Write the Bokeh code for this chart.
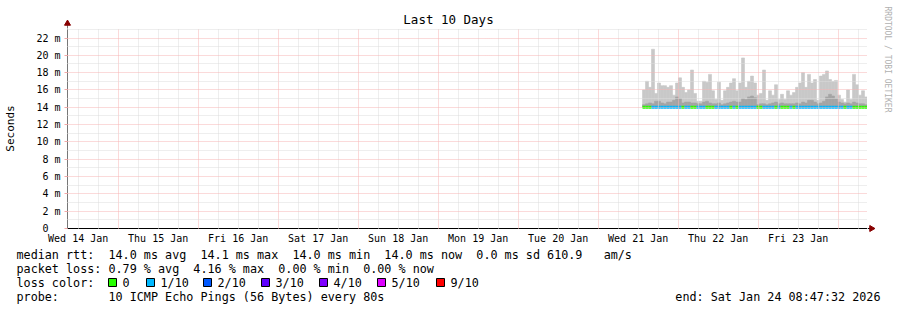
import pandas as pd
from math import pi
from bokeh.plotting import figure
from bokeh.layouts import column, row
from bokeh.models import Range1d, FixedTicker
from bokeh.core.properties import value
from bokeh.embed import file_html
from bokeh.resources import INLINE

# ---------------- data ----------------
title_text = "Last 10 Days"
y_axis_title = "Seconds"
watermark = "RRDTOOL / TOBI OETIKER"

range_start = "2026-01-14 08:47:32"
range_end = "2026-01-24 08:47:32"

day_label_dates = ["2026-01-14", "2026-01-15", "2026-01-16", "2026-01-17", "2026-01-18",
                   "2026-01-19", "2026-01-20", "2026-01-21", "2026-01-22", "2026-01-23"]
day_labels = ["Wed 14 Jan", "Thu 15 Jan", "Fri 16 Jan", "Sat 17 Jan", "Sun 18 Jan",
              "Mon 19 Jan", "Tue 20 Jan", "Wed 21 Jan", "Thu 22 Jan", "Fri 23 Jan"]

y_ticks_ms = [0, 2, 4, 6, 8, 10, 12, 14, 16, 18, 20, 22]
y_tick_labels = ["0\u00a0\u00a0", "2 m", "4 m", "6 m", "8 m", "10 m", "12 m",
                 "14 m", "16 m", "18 m", "20 m", "22 m"]
y_minor_ms = [1, 3, 5, 7, 9, 11, 13, 15, 17, 19, 21, 23]
y_top_ms = 23.1

sample_start = "2026-01-21 13:17:32"
sample_step_minutes = 54

# upper edge of the smoke (ms)
smoke_max = [16.0, 17.0, 16.3, 20.7, 15.6, 16.8, 16.5, 16.5, 16.3, 16.5,
             15.4, 16.8, 17.4, 16.3, 15.7, 16.0, 18.3, 15.6, 14.7, 14.7,
             17.0, 16.9, 17.8, 15.9, 14.9, 16.9, 14.8, 15.9, 16.3, 16.8,
             17.3, 15.9, 16.8, 19.7, 16.3, 17.0, 17.6, 16.8, 15.4, 15.6,
             18.3, 14.8, 15.9, 15.4, 16.6, 14.9, 15.5, 14.9, 15.9, 15.4,
             15.7, 16.3, 16.8, 18.0, 16.3, 17.8, 16.8, 17.2, 14.8, 17.6,
             17.8, 18.2, 17.2, 17.0, 17.1, 15.4, 14.9, 14.6, 16.0, 14.9,
             17.8, 16.6, 15.4, 15.9, 15.2]
# denser (darker) part of the smoke (ms)
smoke_dark = [14.3, 14.4, 14.5, 14.4, 14.7, 14.7, 14.5, 14.4, 14.6, 14.6,
              14.8, 15.2, 15.0, 14.5, 14.6, 14.6, 14.5, 14.5, 14.4, 14.4,
              14.6, 14.7, 14.5, 14.4, 14.4, 14.5, 14.3, 14.4, 14.5, 14.6,
              14.7, 14.6, 14.6, 15.0, 14.9, 15.2, 15.3, 15.1, 14.3, 14.4,
              14.4, 14.3, 14.4, 14.5, 14.6, 14.4, 14.5, 14.4, 14.4, 14.4,
              14.4, 14.5, 14.4, 14.6, 14.5, 14.8, 14.8, 14.6, 14.4, 14.5,
              14.7, 15.2, 15.5, 15.3, 15.0, 14.6, 14.5, 14.4, 14.5, 14.4,
              14.6, 14.5, 14.4, 14.4, 14.3]
median_rtt = [14.0, 14.0, 14.0, 14.0, 14.0, 14.0, 14.0, 14.0, 14.0, 14.0,
              14.0, 14.0, 14.0, 14.0, 14.0, 14.0, 14.0, 14.0, 14.0, 14.0,
              14.0, 14.0, 14.0, 14.0, 14.0, 14.0, 14.0, 14.0, 14.0, 14.0,
              14.0, 14.0, 14.0, 14.0, 14.0, 14.0, 14.0, 14.0, 14.0, 14.0,
              14.0, 14.0, 14.0, 14.0, 14.0, 14.0, 14.0, 14.0, 14.0, 14.0,
              14.0, 14.0, 14.0, 14.0, 14.0, 14.0, 14.0, 14.0, 14.0, 14.0,
              14.0, 14.0, 14.0, 14.0, 14.0, 14.0, 14.0, 14.0, 14.0, 14.0,
              14.0, 14.0, 14.0, 14.0, 14.0]
# pings lost out of 10
loss_count = [0, 0, 0, 1, 1, 1, 1, 1, 1, 1,
              1, 1, 1, 0, 1, 1, 0, 0, 1, 1,
              1, 0, 0, 0, 1, 1, 1, 1, 1, 0,
              1, 0, 1, 1, 1, 1, 1, 1, 0, 0,
              1, 1, 1, 1, 0, 1, 0, 0, 0, 1,
              0, 1, 1, 1, 1, 1, 1, 1, 1, 1,
              1, 1, 1, 1, 1, 1, 1, 0, 1, 1,
              0, 0, 0, 0, 0]

loss_names = ["0", "1/10", "2/10", "3/10", "4/10", "5/10", "9/10"]
loss_levels = [0, 1, 2, 3, 4, 5, 9]
loss_hex = ["#26ff00", "#00b8ff", "#0059ff", "#5e00ff", "#7e00ff", "#dd00ff", "#ff0000"]

legend_rows = [
    "median rtt:  14.0 ms avg  14.1 ms max  14.0 ms min  14.0 ms now  0.0 ms sd 610.9   am/s",
    "packet loss: 0.79 % avg  4.16 % max  0.00 % min  0.00 % now",
    "loss color:",
    "probe:       10 ICMP Echo Pings (56 Bytes) every 80s",
]
end_text = "end: Sat Jan 24 08:47:32 2026"

# ---------------- helpers ----------------
def ms(ts):
    return pd.Timestamp(ts).value / 1e6

HOUR = 3600 * 1000.0
t0, t1 = ms(range_start), ms(range_end)
step = sample_step_minutes * 60 * 1000.0
s0 = ms(sample_start)
left = [s0 + i * step for i in range(len(smoke_max))]
right = [v + step for v in left]
loss_color_of = dict(zip(loss_levels, loss_hex))
line_colors = [loss_color_of[c] for c in loss_count]

noons = [ms(d) + 12 * HOUR for d in day_label_dates]
midnights = [ms(d) for d in day_label_dates[1:]] + [ms("2026-01-24")]
six_h = []
t = ms("2026-01-14 12:00:00")
while t < t1:
    if t not in midnights:
        six_h.append(t)
    t += 6 * HOUR

MONO = "DejaVu Sans Mono"
W, H = 897, 310
FL = 67            # frame left
FTOP = 28          # frame top
FH = 200           # frame height
FW = 800           # frame width
XLAB = 18          # x-label band
MAIN_W = FL + FW
MAIN_H = FH + XLAB
TOP_H = FTOP
SIDE_W = W - MAIN_W
UPPER_H = TOP_H + MAIN_H
BOT_H = H - UPPER_H


def strip(w, h, x0, x1, y_bottom, y_top):
    f = figure(width=w, height=h, output_backend="svg", toolbar_location=None,
               x_range=Range1d(x0, x1), y_range=Range1d(y_bottom, y_top),
               x_axis_location=None, y_axis_location=None, min_border=0)
    f.outline_line_color = None
    f.grid.visible = False
    f.background_fill_color = "white"
    f.border_fill_color = "white"
    return f


def txt(f, s, x, y, size, align="left", color="black", angle=0.0):
    f.text(x=[x], y=[y], text=[s], text_font=value(MONO), text_font_size=value(size),
           text_align=align, text_baseline="middle", text_color=color, angle=angle)


# ---------------- main plot ----------------
p = figure(width=MAIN_W, height=MAIN_H, output_backend="svg", toolbar_location=None,
           x_range=Range1d(t0, t1), y_range=Range1d(0, y_top_ms),
           min_border_left=FL, min_border_right=0, min_border_top=0, min_border_bottom=XLAB)
p.outline_line_color = None
p.background_fill_color = "white"
p.border_fill_color = "white"

xa = p.xaxis[0]
xa.ticker = FixedTicker(ticks=noons)
xa.major_label_overrides = {n: l for n, l in zip(noons, day_labels)}
xa.major_tick_out = 0
xa.major_tick_in = 0
xa.minor_tick_out = 0
xa.minor_tick_in = 0
xa.major_label_standoff = 4
xa.major_label_text_font = MONO
xa.major_label_text_font_size = "10px"
xa.major_label_text_color = "black"
xa.axis_line_color = "black"

ya = p.yaxis[0]
ya.ticker = FixedTicker(ticks=y_ticks_ms, minor_ticks=y_minor_ms)
ya.major_label_overrides = {v: l for v, l in zip(y_ticks_ms, y_tick_labels)}
ya.major_tick_out = 3
ya.major_tick_in = 0
ya.major_tick_line_color = "#f4a8a8"
ya.minor_tick_out = 0
ya.minor_tick_in = 0
ya.major_label_standoff = 4
ya.major_label_text_font = MONO
ya.major_label_text_font_size = "10px"
ya.major_label_text_color = "black"
ya.axis_line_color = "#777777"
ya.axis_label = y_axis_title
ya.axis_label_text_font = MONO
ya.axis_label_text_font_size = "11px"
ya.axis_label_text_font_style = "normal"
ya.axis_label_text_color = "black"
ya.axis_label_standoff = 16

p.xgrid.ticker = FixedTicker(ticks=midnights, minor_ticks=six_h)
p.ygrid.ticker = FixedTicker(ticks=y_ticks_ms[1:], minor_ticks=y_minor_ms)
for g in (p.xgrid[0], p.ygrid[0]):
    g.grid_line_color = "#f6b4b4"
    g.grid_line_alpha = 1.0
    g.grid_line_dash = "1 1"
    g.minor_grid_line_color = "#dcdcdc"
    g.minor_grid_line_alpha = 1.0
    g.minor_grid_line_dash = "1 1"
    g.level = "annotation"

p.quad(left=left, right=right, bottom=median_rtt, top=smoke_max,
       fill_color="#c8c8c8", line_color="#c8c8c8", line_width=0.6)
p.quad(left=left, right=right, bottom=median_rtt, top=smoke_dark,
       fill_color="#a4a4a4", line_color="#a4a4a4", line_width=0.6)
p.segment(x0=left, x1=right, y0=median_rtt, y1=median_rtt,
          line_color=line_colors, line_width=3)

# ---------------- top strip: title + y-axis arrow ----------------
ptop = strip(MAIN_W, TOP_H, 0, MAIN_W, TOP_H, 0)
txt(ptop, title_text, 448, 19, "12.5px", align="center")
ptop.segment(x0=[FL], y0=[TOP_H], x1=[FL], y1=[23], line_color="#777777", line_width=1)
ptop.scatter(x=[FL], y=[23], marker="triangle", size=6,
             fill_color="#880000", line_color="#880000")

# ---------------- right strip: watermark + x-axis arrow ----------------
pside = strip(SIDE_W, UPPER_H, MAIN_W, W, UPPER_H, 0)
txt(pside, watermark, 887, 59, "8px", align="center", color="#b0b0b0", angle=-pi / 2)
axis_y = TOP_H + FH
pside.segment(x0=[MAIN_W], y0=[axis_y], x1=[MAIN_W + 3], y1=[axis_y],
              line_color="black", line_width=1)
pside.scatter(x=[MAIN_W + 4], y=[axis_y], marker="triangle", size=6, angle=-pi / 2,
              fill_color="#880000", line_color="#880000")

# ---------------- bottom strip: legend ----------------
pbot = strip(W, BOT_H, 0, W, H, UPPER_H)
row_y = [254.5, 268, 282, 296]
for s, y in zip(legend_rows, row_y):
    txt(pbot, s.replace(" ", "\u00a0"), 16, y, "11.75px")
box_x = [108, 146, 203, 261, 319, 377, 436]
pbot.quad(left=box_x, right=[b + 8 for b in box_x], top=[278] * len(box_x),
          bottom=[286] * len(box_x), fill_color=loss_hex, line_color="black", line_width=1)
for name, b in zip(loss_names, box_x):
    txt(pbot, name, b + 14, 282, "11.75px")
txt(pbot, end_text.replace(" ", "\u00a0"), 880, 296, "11.75px", align="right")

layout = column(row(column(row(ptop, spacing=0), p, spacing=0), pside, spacing=0),
                pbot, spacing=0)
open("out.html", "w").write(file_html(layout, INLINE))
